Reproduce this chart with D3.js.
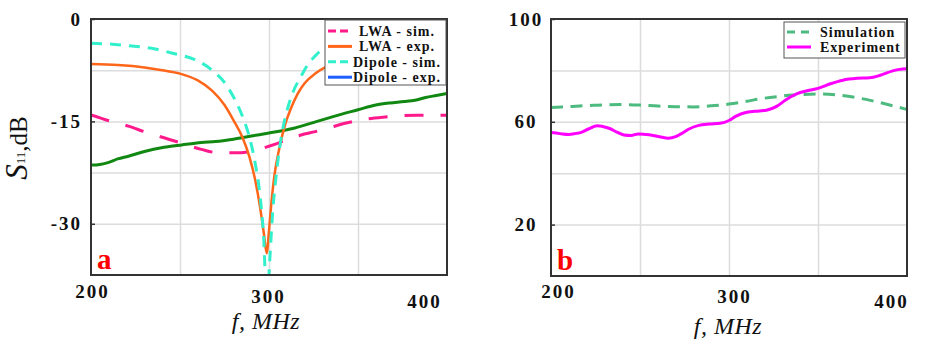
<!doctype html>
<html lang="en">
<head>
  <meta charset="utf-8">
  <style>
    body { margin: 0; background: #fff; }
    svg { display: block; font-family: "Liberation Serif", "Times New Roman", serif; }
    .tick-label { font-size: 19px; font-weight: bold; letter-spacing: 2px; fill: #111; }
    .legend-text { font-size: 14px; font-weight: bold; letter-spacing: 1px; fill: #111; }
    .grid line { stroke: #dcdcdc; stroke-width: 1.5; }
    .grid path { display: none; }
    .frame { fill: none; stroke: #333; stroke-width: 2; }
    .axis-title { font-size: 24px; font-style: italic; fill: #111; letter-spacing: 0.5px; }
    .panel-tag { font-size: 29px; font-weight: bold; fill: #ff0000; }
  </style>
  <script src="https://d3js.org/d3.v7.min.js"></script>
</head>
<body>
<script>
// ---- data ----
const freqTicks = [200, 300, 400];
const freqGrid = [250, 300, 350];
const s11Ticks = [0, -15, -30];
const s11Grid = [-7.5, -15, -22.5, -30];
const gainTicks = [100, 60, 20];
const gainGrid = [20, 40, 60, 80];

// panel a: S11, dB
const lwaSimF  = [200, 210, 221, 231, 241, 251, 262, 272, 284, 291, 298, 304, 311, 318, 326, 333, 344, 354, 364, 383, 400];
const lwaSimDb = [-14.05, -14.9, -15.7, -16.6, -17.4, -18.2, -19.1, -19.6, -19.6, -19.3, -18.8, -18.3, -17.6, -17.0, -16.5, -16.0, -15.2, -14.7, -14.4, -14.1, -14.1];

const lwaExpF  = [200, 215, 230, 240, 250, 260, 268, 275, 280, 285, 289, 292, 295, 297, 298.7, 300, 301.5, 303, 306, 309, 312, 316, 320, 326, 332, 340, 360, 380, 400];
const lwaExpDb = [-6.6, -6.75, -7.1, -7.5, -8.0, -9.0, -10.5, -12.6, -14.8, -17.3, -20.2, -23.3, -27.6, -31.2, -34.3, -31, -26.5, -23, -18.7, -15.5, -13.3, -11.0, -9.4, -8.0, -7.0, -6.5, -6.2, -6.3, -6.5];

const dipSimF  = [200, 212, 223, 236, 247, 258, 268, 275, 280, 285, 289, 292, 295, 297, 298.8, 300.5, 302, 304, 306, 308, 311, 314, 318, 321, 326, 331, 340, 360, 380, 400];
const dipSimDb = [-3.55, -3.7, -3.95, -4.4, -5.1, -5.9, -7.5, -9.3, -11.4, -14.2, -17.3, -20.8, -26, -32, -42, -35, -28.5, -23, -18.8, -15.8, -12.6, -10.4, -8.4, -7.0, -5.4, -4.2, -3.3, -2.9, -2.9, -3.1];

const dipExpF  = [200, 205, 210, 215, 221, 230, 241, 251, 262, 270, 280, 291, 300, 314, 327, 336, 350, 360, 368, 376, 382, 388, 394, 400];
const dipExpDb = [-21.4, -21.3, -21.0, -20.5, -20.1, -19.4, -18.8, -18.45, -18.1, -17.95, -17.6, -17.1, -16.7, -16.0, -15.0, -14.3, -13.3, -12.6, -12.3, -12.1, -11.9, -11.5, -11.2, -10.9];

// panel b
const simF   = [200, 212, 224, 239, 250, 260, 270, 280, 290, 300, 310, 318, 327, 336, 350, 361, 374, 387, 400];
const simVal = [65.6, 66.0, 66.4, 66.7, 66.5, 66.1, 65.9, 65.8, 66.2, 66.9, 68.0, 69.0, 69.8, 70.4, 70.8, 70.4, 69.1, 67.1, 64.8];

const expF   = [200, 205, 210, 214, 217, 221, 226, 229, 233, 237, 241, 245, 249, 253, 256, 261, 266, 270, 273, 277, 283, 289, 295, 300, 304, 310, 317, 321, 327, 332, 338, 344, 350, 357, 364, 372, 379, 385, 392, 396, 400];
const expVal = [55.8, 55.4, 55.1, 55.5, 55.9, 57.2, 58.5, 58.2, 57.4, 56.0, 54.9, 54.7, 55.3, 55.1, 54.9, 54.2, 53.6, 54.2, 55.3, 57.0, 58.6, 59.1, 59.4, 60.5, 62.2, 63.7, 64.2, 64.5, 66.1, 68.6, 70.9, 72.1, 73.0, 74.8, 76.2, 76.9, 77.1, 78.1, 79.8, 80.4, 80.6];

const serif = '"Liberation Serif", "Times New Roman", serif';

const svg = d3.select("body").append("svg")
    .attr("width", 929)
    .attr("height", 348);

svg.append("rect").attr("width", 929).attr("height", 348).attr("fill", "#fff");

function drawPanel(p) {
  const w = p.right - p.left, h = p.bottom - p.top;
  const x = d3.scaleLinear().domain([200, 400]).range([0, w]);
  const y = d3.scaleLinear().domain(p.yDomain).range([h, 0]);

  const g = svg.append("g").attr("transform", `translate(${p.left},${p.top})`);

  // grid
  g.append("g").attr("class", "grid")
      .attr("transform", `translate(0,${h})`)
      .call(d3.axisBottom(x).tickValues(freqGrid).tickSize(-h).tickFormat(""));
  g.append("g").attr("class", "grid")
      .call(d3.axisLeft(y).tickValues(p.yGrid).tickSize(-w).tickFormat(""));

  // clip
  g.append("clipPath").attr("id", "clip-" + p.id)
    .append("rect").attr("width", w).attr("height", h);

  const plot = g.append("g").attr("clip-path", `url(#clip-${p.id})`);
  p.series.forEach(s => {
    const line = d3.line()
        .x(d => x(d[0]))
        .y(d => y(d[1]))
        .curve(d3.curveMonotoneX);
    plot.append("path")
        .datum(d3.zip(s.f, s.v))
        .attr("fill", "none")
        .attr("stroke", s.color)
        .attr("stroke-width", s.width)
        .attr("stroke-dasharray", s.dash || null)
        .attr("d", line);
  });

  g.append("rect").attr("class", "frame").attr("width", w).attr("height", h);

  // y axis (plain hyphen minus, as in the figure)
  const yAxis = g.append("g")
      .attr("font-family", null)
      .call(d3.axisLeft(y).tickValues(p.yTicks).tickSize(-4).tickPadding(9).tickFormat(d => String(d)));
  yAxis.attr("font-family", null).attr("font-size", null);
  yAxis.select(".domain").remove();
  yAxis.selectAll("line").attr("stroke", "#333").attr("stroke-width", 1.5);
  yAxis.selectAll("text").attr("class", "tick-label").style("font-family", serif);
  if (p.yCenter) yAxis.selectAll("text").attr("text-anchor", "middle").attr("x", -p.yCenter);

  // x axis, labels stepped downwards as in the figure
  const xAxis = g.append("g")
      .attr("transform", `translate(0,${h})`)
      .call(d3.axisBottom(x).tickValues(freqTicks).tickSize(0).tickFormat(d => String(d)));
  xAxis.attr("font-family", null).attr("font-size", null);
  xAxis.select(".domain").remove();
  xAxis.selectAll("text")
      .attr("class", "tick-label")
      .style("font-family", serif)
      .attr("y", (d, i) => p.xLabelY + 5 * i)
      .attr("dx", (d, i) => p.xLabelDx[i]);

  // panel tag
  g.append("text").attr("class", "panel-tag")
      .attr("x", p.tagX).attr("y", h - 6).text(p.tag);

  // x title
  g.append("text").attr("class", "axis-title")
      .attr("x", p.titleX).attr("y", p.titleY)
      .attr("text-anchor", "middle")
      .text("f, MHz");

  // legend
  const lg = g.append("g").attr("transform", `translate(${p.legend.x},${p.legend.y})`);
  lg.append("rect")
      .attr("width", p.legend.w).attr("height", p.legend.h)
      .attr("fill", "#fff").attr("stroke", "#555").attr("stroke-width", 1);
  p.legend.items.forEach((it, i) => {
    const cy = p.legend.first + i * p.legend.step;
    lg.append("line")
        .attr("x1", 3).attr("x2", 27).attr("y1", cy).attr("y2", cy)
        .attr("stroke", it.color).attr("stroke-width", 3)
        .attr("stroke-dasharray", it.dash || null);
    lg.append("text").attr("class", "legend-text")
        .attr("x", p.legend.textX).attr("y", cy + 5)
        .attr("text-anchor", p.legend.anchor)
        .text(it.label);
  });
  return g;
}

const cPink = "#ff1a8c", cOrange = "#ff6619", cCyan = "#33f0cc", cBlue = "#1f5fff",
      cGreen = "#118811", cSim = "#4dbb7f", cMag = "#ff00ff";

drawPanel({
  id: "a", left: 91, right: 447, top: 19, bottom: 275,
  yDomain: [-37.5, 0], yTicks: s11Ticks, yGrid: s11Grid,
  xLabelY: 10, xLabelDx: [1, -1, -23],
  tag: "a", tagX: 6, titleX: 175, titleY: 54 + 256,
  series: [
    { f: dipExpF, v: dipExpDb, color: cGreen, width: 3 },
    { f: lwaSimF, v: lwaSimDb, color: cPink, width: 3, dash: "19 17" },
    { f: lwaExpF, v: lwaExpDb, color: cOrange, width: 2.5 },
    { f: dipSimF, v: dipSimDb, color: cCyan, width: 3, dash: "11 8" }
  ],
  legend: {
    x: 234, y: 1, w: 121, h: 65, first: 11, step: 15.4, textX: 72, anchor: "middle",
    items: [
      { label: "LWA - sim.", color: cPink, dash: "8 4" },
      { label: "LWA - exp.", color: cOrange },
      { label: "Dipole - sim.", color: cCyan, dash: "8 4" },
      { label: "Dipole - exp.", color: cBlue }
    ]
  }
});

drawPanel({
  id: "b", left: 551, right: 907, top: 19, bottom: 276,
  yDomain: [0, 100], yTicks: gainTicks, yGrid: gainGrid, yCenter: 25,
  xLabelY: 9, xLabelDx: [7, 5, -16],
  tag: "b", tagX: 6, titleX: 177, titleY: 59 + 256,
  series: [
    { f: simF, v: simVal, color: cSim, width: 3, dash: "12 7.5" },
    { f: expF, v: expVal, color: cMag, width: 3 }
  ],
  legend: {
    x: 233, y: 3, w: 121, h: 36, first: 10, step: 15, textX: 36, anchor: "start",
    items: [
      { label: "Simulation", color: cSim, dash: "8 6" },
      { label: "Experiment", color: cMag }
    ]
  }
});

// y title of panel a: S11,dB
const yTitle = svg.append("text")
    .attr("transform", "translate(27,148) rotate(-90)")
    .attr("text-anchor", "middle")
    .attr("fill", "#111");
yTitle.append("tspan").attr("font-style", "italic").attr("font-size", 31).text("S");
yTitle.append("tspan").attr("font-size", 13).attr("dy", -2).text("11");
yTitle.append("tspan").attr("font-size", 25).attr("dy", 2).text(",dB");
</script>
</body>
</html>
